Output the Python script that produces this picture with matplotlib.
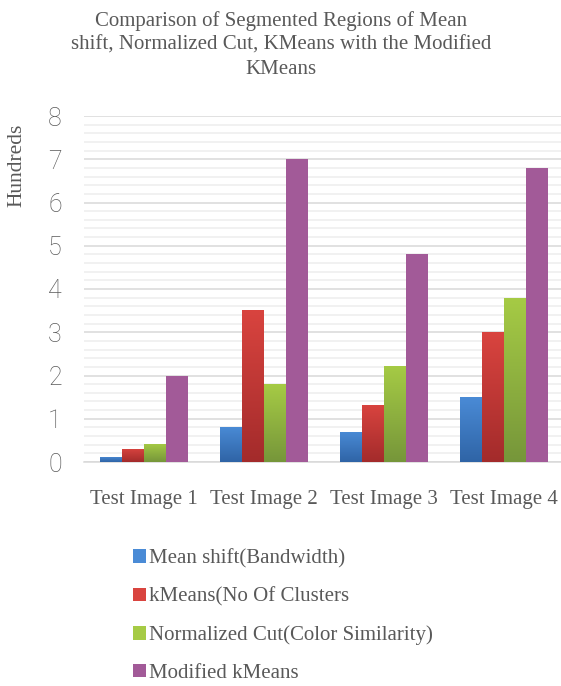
import numpy as np
import matplotlib.pyplot as plt
from matplotlib.colors import LinearSegmentedColormap
from matplotlib.patches import Patch

# Segment counts per test image, in hundreds
images = ['Test Image 1', 'Test Image 2', 'Test Image 3', 'Test Image 4']
mean_shift = [0.12, 0.82, 0.70, 1.50]
kmeans = [0.31, 3.52, 1.32, 3.00]
ncut = [0.42, 1.80, 2.22, 3.80]
modified_kmeans = [2.00, 7.00, 4.80, 6.80]

labels = ['Mean shift(Bandwidth)', 'kMeans(No Of Clusters',
          'Normalized Cut(Color Similarity)', 'Modified kMeans']
series = [mean_shift, kmeans, ncut, modified_kmeans]
# (top colour, bottom colour) - purple is flat
colors = [('#4A8BD6', '#2F64A6'), ('#D9443F', '#A32B2B'),
          ('#A6CB45', '#76963A'), ('#A25A98', '#A25A98')]

serif = ['Liberation Serif', 'DejaVu Serif']
grey = '#595959'

fig = plt.figure(figsize=(5.61, 6.86), dpi=100)
ax = fig.add_axes([84 / 561, 1 - 462 / 686, 480 / 561, 346 / 686])

x = np.arange(len(images))
width = 0.18
step = 0.183
grad = np.linspace(0, 1, 256).reshape(-1, 1)

for i, (vals, (top, bot)) in enumerate(zip(series, colors)):
    bars = ax.bar(x + (i - 1.5) * step, vals, width, color=top, zorder=3,
                  linewidth=0)
    if top != bot:
        cmap = LinearSegmentedColormap.from_list('g%d' % i, [bot, top])
        for b in bars:
            bx, by = b.get_x(), b.get_y()
            im = ax.imshow(grad, cmap=cmap, origin='lower', aspect='auto',
                           extent=[bx, bx + b.get_width(), by, by + b.get_height()],
                           zorder=4)
            im.set_clip_path(b)

ax.set_xlim(-0.5, 3.5)
ax.set_ylim(0, 8)
ax.set_yticks(range(9))
ax.set_yticks(np.arange(0, 8, 0.2), minor=True)
ax.grid(axis='y', which='major', color='#D9D9D9', linewidth=1.1, zorder=0)
ax.grid(axis='y', which='minor', color='#EEEEEE', linewidth=1.1, zorder=0)
ax.set_axisbelow(True)
for s in ['left', 'right', 'top']:
    ax.spines[s].set_visible(False)
ax.spines['bottom'].set_color('#D9D9D9')
ax.spines['bottom'].set_linewidth(1.1)
ax.tick_params(axis='y', which='both', length=0, pad=16, labelsize=18,
               labelcolor=grey)
ax.tick_params(axis='x', length=0, pad=20, labelcolor=grey)
for t in ax.get_yticklabels():
    t.set_fontfamily(['Roboto', 'DejaVu Sans'])
    t.set_fontweight('light')
ax.set_xticks(x)
ax.set_xticklabels(images, fontfamily=serif, fontsize=15)

fig.text(17 / 561, 1 - 165 / 686, 'Hundreds', rotation=90, ha='center',
         va='center', fontfamily=serif, fontsize=15.5, color=grey)

fig.text(281 / 561, 1 - 45 / 686,
         'Comparison of Segmented Regions of Mean\n'
         'shift, Normalized Cut, KMeans with the Modified\nKMeans',
         ha='center', va='center', fontfamily=serif, fontsize=15,
         color=grey, linespacing=1.38)

handles = [Patch(facecolor=c[0], edgecolor='none') for c in colors]
leg = fig.legend(handles, labels, loc='center left',
                 bbox_to_anchor=(133 / 561, 1 - 616 / 686), frameon=False,
                 handlelength=0.62, handleheight=0.62, handletextpad=0.15,
                 labelspacing=0.9, borderpad=0, borderaxespad=0,
                 prop={'family': serif, 'size': 15})
for t in leg.get_texts():
    t.set_color(grey)

fig.savefig('out.png', dpi=100)
